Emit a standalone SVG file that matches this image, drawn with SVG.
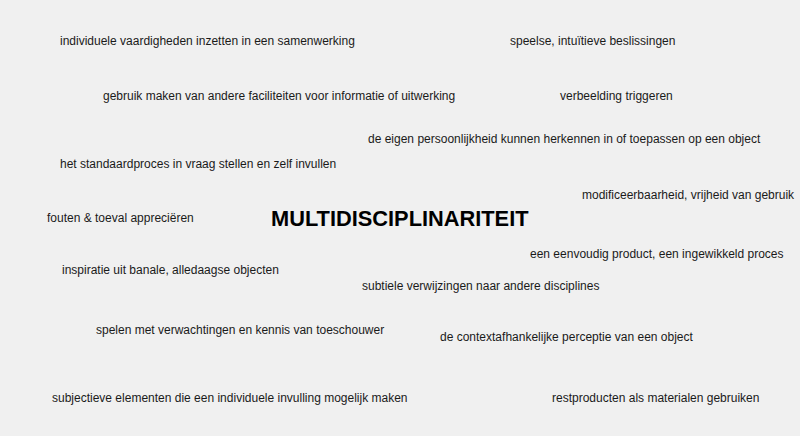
<svg xmlns="http://www.w3.org/2000/svg" width="800" height="436" viewBox="0 0 800 436">
<style>
.t{font-family:"Liberation Sans",Arial,sans-serif;font-size:12px;fill:#1a1a1a}
.h{font-family:"Liberation Sans",Arial,sans-serif;font-size:21.8px;font-weight:bold;fill:#000}
</style>
<rect width="800" height="436" fill="#f0f0f0"/>
<g id="title"><text class="h" x="271" y="226">MULTIDISCIPLINARITEIT</text></g>
<g id="n1"><text class="t" x="60" y="45">individuele vaardigheden inzetten in een samenwerking</text></g>
<g id="n2"><text class="t" x="510" y="45">speelse, intuïtieve beslissingen</text></g>
<g id="n3"><text class="t" x="103" y="100">gebruik maken van andere faciliteiten voor informatie of uitwerking</text></g>
<g id="n4"><text class="t" x="560" y="100">verbeelding triggeren</text></g>
<g id="n5"><text class="t" x="368" y="143">de eigen persoonlijkheid kunnen herkennen in of toepassen op een object</text></g>
<g id="n6"><text class="t" x="60" y="168">het standaardproces in vraag stellen en zelf invullen</text></g>
<g id="n7"><text class="t" x="582" y="199">modificeerbaarheid, vrijheid van gebruik</text></g>
<g id="n8"><text class="t" x="47" y="222">fouten &amp; toeval appreciëren</text></g>
<g id="n9"><text class="t" x="530" y="258">een eenvoudig product, een ingewikkeld proces</text></g>
<g id="n10"><text class="t" x="62" y="274">inspiratie uit banale, alledaagse objecten</text></g>
<g id="n11"><text class="t" x="362" y="290">subtiele verwijzingen naar andere disciplines</text></g>
<g id="n12"><text class="t" x="96" y="334">spelen met verwachtingen en kennis van toeschouwer</text></g>
<g id="n13"><text class="t" x="440" y="341">de contextafhankelijke perceptie van een object</text></g>
<g id="n14"><text class="t" x="52" y="402">subjectieve elementen die een individuele invulling mogelijk maken</text></g>
<g id="n15"><text class="t" x="552" y="402">restproducten als materialen gebruiken</text></g>
</svg>
